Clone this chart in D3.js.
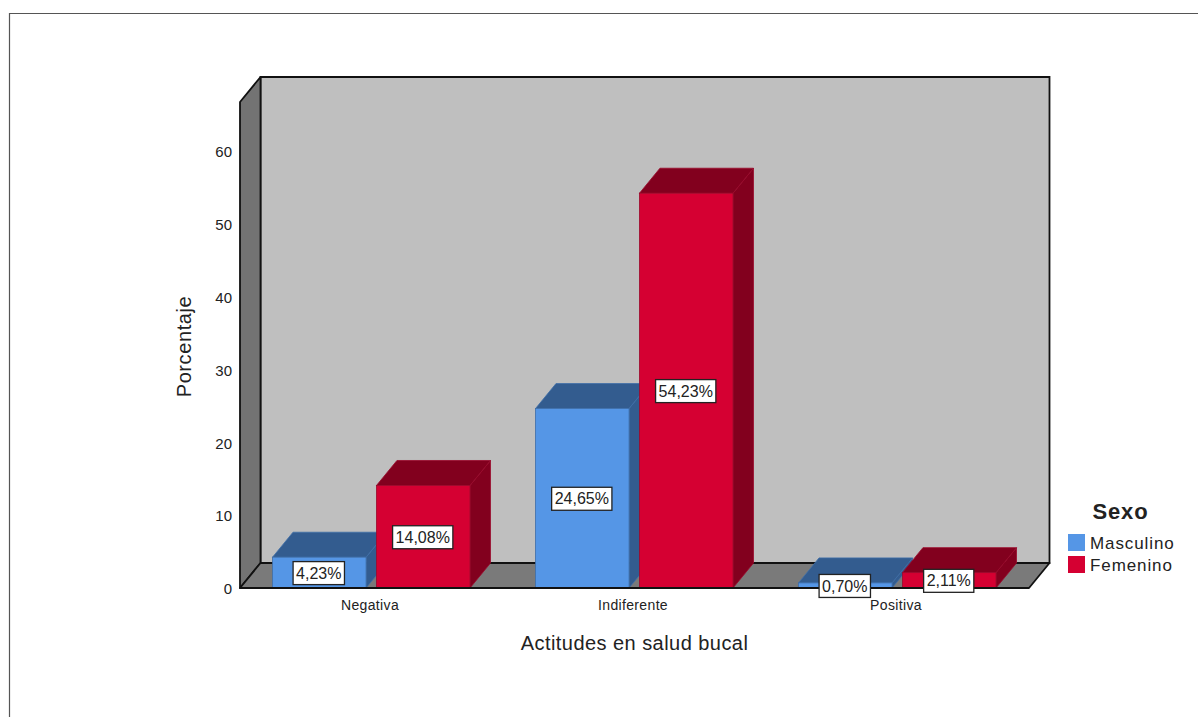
<!DOCTYPE html>
<html lang="es">
<head>
<meta charset="utf-8">
<title>Actitudes en salud bucal</title>
<script src="https://cdn.jsdelivr.net/npm/d3@7"></script>
<style>
  html, body { margin: 0; padding: 0; background: #fff; }
  svg { display: block; }
  text { font-family: "Liberation Sans", Arial, sans-serif; fill: #222; }
</style>
</head>
<body>
<svg id="chart" width="1198" height="717"></svg>
<script>
// Chart data
const categories = ["Negativa", "Indiferente", "Positiva"];
const seriesNames = ["Masculino", "Femenino"];
const masculino = [4.23, 24.65, 0.70];
const femenino = [14.08, 54.23, 2.11];
const yTicks = [0, 10, 20, 30, 40, 50, 60];

const colors = {
  Masculino: { front: "#5596E6", top: "#335C8F", side: "#335C8F", edge: "#3F6EA8" },
  Femenino: { front: "#D50032", top: "#82001E", side: "#82001E", edge: "#9A0A2C" }
};

const valuesBySeries = { Masculino: masculino, Femenino: femenino };

// Plot box and oblique projection offsets
const left = 240, right = 1029, base = 588, depthX = 20.5, depthY = 25;
const wallTopFront = 102;

const svg = d3.select("#chart");

const y = d3.scaleLinear().domain([0, 60]).range([base, 151.2]);
const x0 = d3.scaleBand().domain(categories).range([left, right]);
const x1 = d3.scaleBand().domain(seriesNames)
  .range([32.5, 230]).paddingInner(0.1).paddingOuter(0);

const poly = pts => pts.map(p => p.join(",")).join(" ");

// Outer page frame
svg.append("path")
  .attr("d", "M9.5,717V13.5H1198")
  .attr("fill", "none").attr("stroke", "#555").attr("stroke-width", 1.2);

// Back wall, side wall and floor
const walls = svg.append("g");
walls.append("polygon")
  .attr("points", poly([[left + depthX, wallTopFront - depthY], [right + depthX, wallTopFront - depthY],
    [right + depthX, base - depthY], [left + depthX, base - depthY]]))
  .attr("fill", "#BFBFBF").attr("stroke", "#111").attr("stroke-width", 1.8);
walls.append("polygon")
  .attr("points", poly([[left, wallTopFront], [left + depthX, wallTopFront - depthY],
    [left + depthX, base - depthY], [left, base]]))
  .attr("fill", "#737373").attr("stroke", "#111").attr("stroke-width", 1.8).attr("stroke-linejoin", "round");
walls.append("polygon")
  .attr("points", poly([[left, base], [left + depthX, base - depthY],
    [right + depthX, base - depthY], [right, base]]))
  .attr("fill", "#7A7A7A").attr("stroke", "#111").attr("stroke-width", 1.8).attr("stroke-linejoin", "round");

// Bars, drawn left to right so nearer faces cover earlier ones
const barData = categories.flatMap((c, i) =>
  seriesNames.map(s => ({ category: c, series: s, value: valuesBySeries[s][i] })));

const bars = svg.append("g").selectAll("g").data(barData).join("g");

bars.each(function (d) {
  const g = d3.select(this);
  const xa = x0(d.category) + x1(d.series);
  const xb = xa + x1.bandwidth();
  const yt = y(d.value);
  const c = colors[d.series];
  g.append("polygon")
    .attr("points", poly([[xb, yt], [xb + depthX, yt - depthY], [xb + depthX, base - depthY], [xb, base]]))
    .attr("fill", c.side).attr("stroke", c.edge).attr("stroke-width", 0.8);
  g.append("polygon")
    .attr("points", poly([[xa, yt], [xa + depthX, yt - depthY], [xb + depthX, yt - depthY], [xb, yt]]))
    .attr("fill", c.top).attr("stroke", c.edge).attr("stroke-width", 0.8);
  g.append("rect")
    .attr("x", xa).attr("y", yt).attr("width", xb - xa).attr("height", base - yt)
    .attr("fill", c.front).attr("stroke", c.edge).attr("stroke-width", 0.8);
});

// Front edge of the floor
svg.append("line")
  .attr("x1", left).attr("x2", right).attr("y1", base).attr("y2", base)
  .attr("stroke", "#111").attr("stroke-width", 2.2);

// Axes
const axisFont = "\"Liberation Sans\", Arial, sans-serif";
const yAxis = svg.append("g")
  .attr("transform", `translate(${left},0)`)
  .call(d3.axisLeft(y).tickValues(yTicks).tickSize(0).tickPadding(8));
yAxis.select(".domain").remove();
yAxis.selectAll("text")
  .attr("dy", "0.38em")
  .style("font-size", "15px").style("font-family", axisFont).style("fill", "#222");

const xAxis = svg.append("g")
  .attr("transform", `translate(-1.5,${base})`)
  .call(d3.axisBottom(x0).tickSize(0).tickPadding(12));
xAxis.select(".domain").remove();
xAxis.selectAll("text")
  .style("font-size", "14px").style("letter-spacing", "0.35px")
  .style("font-family", axisFont).style("fill", "#222");

// Value labels in white boxes at the middle of each bar's front face
const fmt = v => v.toFixed(2).replace(".", ",") + "%";
const labels = svg.append("g").selectAll("g").data(barData).join("g")
  .attr("transform", d => {
    const cx = x0(d.category) + x1(d.series) + x1.bandwidth() / 2;
    return `translate(${cx - 0.5},${(y(d.value) + base) / 2 + 0.5})`;
  });
labels.append("text")
  .attr("text-anchor", "middle").attr("dy", "0.35em")
  .style("font-size", "16px")
  .text(d => fmt(d.value))
  .each(function () {
    const b = this.getBBox();
    d3.select(this.parentNode).insert("rect", "text")
      .attr("x", b.x - 3).attr("y", -11.5)
      .attr("width", b.width + 6).attr("height", 23)
      .attr("fill", "#fff").attr("stroke", "#222").attr("stroke-width", 1.3);
  });

// Axis titles
svg.append("text")
  .attr("x", 634.5).attr("y", 650).attr("text-anchor", "middle")
  .style("font-size", "20px").style("letter-spacing", "0.45px")
  .text("Actitudes en salud bucal");
svg.append("text")
  .attr("transform", "translate(191,346.5) rotate(-90)").attr("text-anchor", "middle")
  .style("font-size", "20px").style("letter-spacing", "0.6px")
  .text("Porcentaje");

// Legend
svg.append("text")
  .attr("x", 1120.5).attr("y", 519).attr("text-anchor", "middle")
  .style("font-size", "22px").style("font-weight", "bold").style("letter-spacing", "0.8px")
  .text("Sexo");
const legend = svg.append("g").selectAll("g").data(seriesNames).join("g")
  .attr("transform", (d, i) => `translate(1068,${534 + i * 22})`);
legend.append("rect")
  .attr("width", 17).attr("height", 17)
  .attr("fill", d => colors[d].front);
legend.append("text")
  .attr("x", 22).attr("y", 15)
  .style("font-size", "17px").style("letter-spacing", "0.9px").text(d => d);
</script>
</body>
</html>
